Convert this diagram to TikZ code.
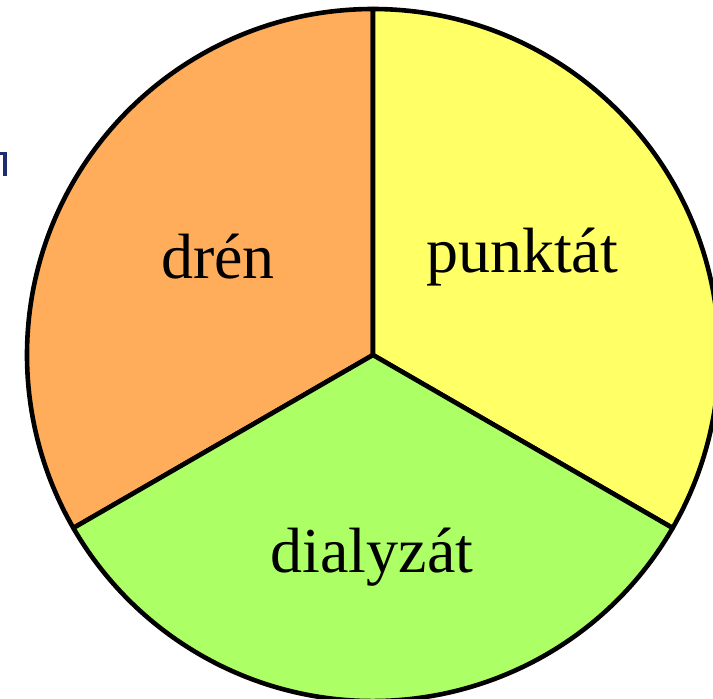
\documentclass[tikz,border=0pt]{standalone}
\usepackage{fontspec}
\setmainfont{Liberation Serif}
\definecolor{sliceorange}{RGB}{255,173,91}
\definecolor{sliceyellow}{RGB}{255,255,102}
\definecolor{slicegreen}{RGB}{173,255,102}
\definecolor{inkblue}{RGB}{30,45,110}
\begin{document}
\begin{tikzpicture}[x=1pt,y=-1pt,
  slice/.style={draw=black,line width=4.6pt,line join=round},
  lbl/.style={anchor=base,inner sep=0pt,font=\fontsize{64}{70}\selectfont}]
\useasboundingbox (0,0) rectangle (713,699);
\clip (0,0) rectangle (713,699);
\fill[white] (0,0) rectangle (713,699);
% centre of the pie (y axis points down, so angle -90 is straight up)
\coordinate (c) at (373,355);
\def\R{346}
% three equal sectors
\filldraw[slice,fill=sliceorange] (c) -- ++(-90:\R) arc[start angle=-90,end angle=-210,radius=\R] -- cycle;
\filldraw[slice,fill=sliceyellow] (c) -- ++(-90:\R) arc[start angle=-90,end angle=30,radius=\R] -- cycle;
\filldraw[slice,fill=slicegreen] (c) -- ++(30:\R) arc[start angle=30,end angle=150,radius=\R] -- cycle;
% labels
\node[lbl] (dren) at (218,278) {dr\'en};
\node[lbl] (punktat) at (522,272) {punkt\'at};
\node[lbl] (dialyzat) at (372,572) {dialyz\'at};
% clipped letter stem at the left edge
\fill[inkblue] (0,152) rectangle (7,155);
\fill[inkblue] (3,152) rectangle (7,176);
\end{tikzpicture}
\end{document}
